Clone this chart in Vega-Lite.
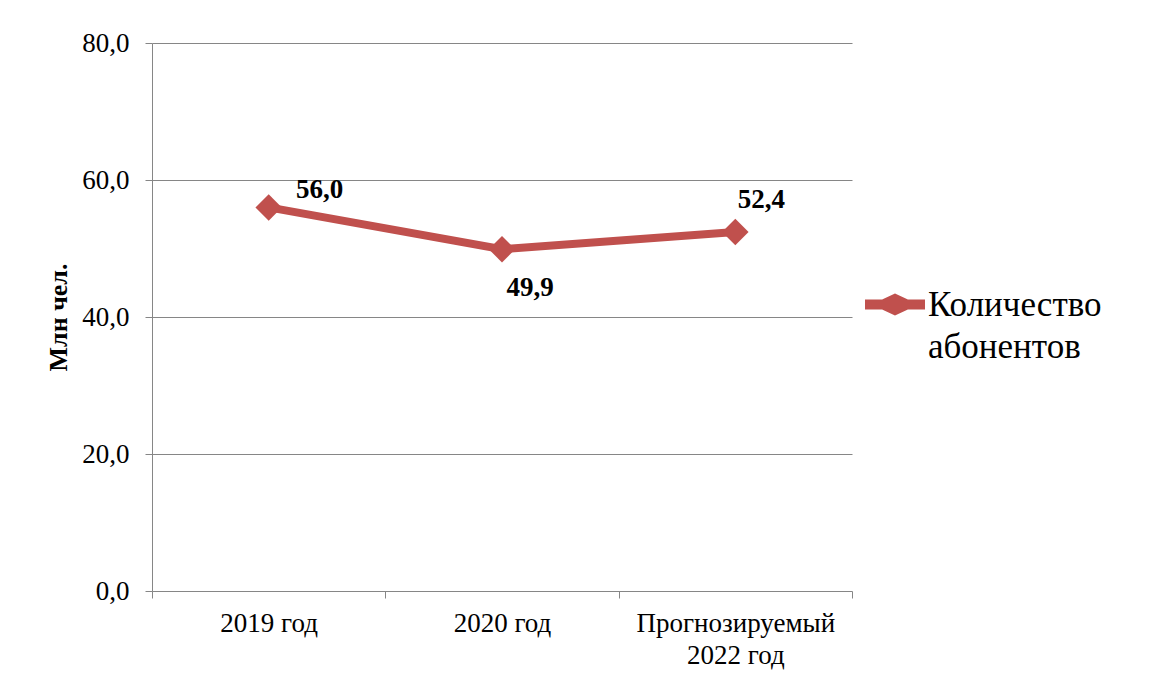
{
  "$schema": "https://vega.github.io/schema/vega-lite/v6.json",
  "width": 700,
  "height": 548,
  "autosize": "none",
  "padding": {"left": 152, "top": 43, "right": 299, "bottom": 87},
  "background": "white",
  "config": {
    "locale": {"number": {"decimal": ",", "thousands": " ", "grouping": [3], "currency": ["", ""]}},
    "view": {"stroke": null},
    "font": "Liberation Serif, Times New Roman, serif",
    "style": {"guide-label": {"lineHeight": 42}}
  },
  "data": {
    "values": [
      {"period": "2019 год", "series": "Количество абонентов", "value": 56.0},
      {"period": "2020 год", "series": "Количество абонентов", "value": 49.9},
      {"period": "Прогнозируемый\n2022 год", "series": "Количество абонентов", "value": 52.4}
    ]
  },
  "encoding": {
    "x": {
      "field": "period",
      "type": "nominal",
      "sort": null,
      "bandPosition": 0.5,
      "scale": {"type": "band", "paddingInner": 0, "paddingOuter": 0},
      "axis": {
        "title": null,
        "tickBand": "extent",
        "grid": false,
        "domain": false,
        "ticks": true,
        "tickSize": 7,
        "tickColor": "#868686",
        "labelAngle": 0,
        "labelFont": "Liberation Serif, Times New Roman, serif",
        "labelFontSize": 27,
        "labelColor": "#000000",
        "labelPadding": 12,
        "labelLimit": 400,
        "labelLineHeight": 32,
        "labelExpr": "split(datum.label, '\\n')"
      }
    },
    "y": {
      "field": "value",
      "type": "quantitative",
      "scale": {"domain": [0, 80], "nice": false},
      "axis": {
        "values": [0, 20, 40, 60, 80],
        "format": ".1f",
        "title": "Млн чел.",
        "titleFont": "Liberation Serif, Times New Roman, serif",
        "titleFontSize": 26,
        "titleFontWeight": "bold",
        "titleColor": "#000000",
        "titlePadding": 10,
        "grid": true,
        "gridColor": "#868686",
        "gridWidth": 1,
        "domainColor": "#868686",
        "tickColor": "#868686",
        "tickSize": 7,
        "labelFont": "Liberation Serif, Times New Roman, serif",
        "labelFontSize": 27,
        "labelColor": "#000000",
        "labelPadding": 16
      }
    }
  },
  "layer": [
    {
      "mark": {"type": "line", "color": "#C0504D", "strokeWidth": 8}
    },
    {
      "mark": {"type": "point", "shape": "diamond", "size": 700, "filled": true, "opacity": 1, "strokeWidth": 0},
      "encoding": {
        "color": {
          "field": "series",
          "type": "nominal",
          "scale": {"range": ["#C0504D"]},
          "legend": {
            "title": null,
            "orient": "none",
            "legendX": 713,
            "legendY": 215,
            "padding": 0,
            "symbolType": "M-1,0.38 L-0.43,0.38 L0,0.18 L0.43,0.38 L1,0.38 L1,0.72 L0.43,0.72 L0,0.92 L-0.43,0.72 L-1,0.72 Z",
            "symbolSize": 3600,
            "symbolStrokeWidth": 0,
            "symbolOpacity": 1,
            "labelFont": "Liberation Serif, Times New Roman, serif",
            "labelFontSize": 35,
            "labelColor": "#000000",
            "labelOffset": 3,
            "labelLimit": 400,
            "labelBaseline": "top",
            "labelExpr": "split(datum.label, ' ')"
          }
        }
      }
    },
    {
      "transform": [{"filter": "datum.period == '2019 год'"}],
      "mark": {"type": "text", "fontWeight": "bold", "fontSize": 27, "font": "Liberation Serif, Times New Roman, serif", "color": "#000000", "dx": 51, "dy": -17},
      "encoding": {"text": {"field": "value", "type": "quantitative", "format": ".1f"}}
    },
    {
      "transform": [{"filter": "datum.period == '2020 год'"}],
      "mark": {"type": "text", "fontWeight": "bold", "fontSize": 27, "font": "Liberation Serif, Times New Roman, serif", "color": "#000000", "dx": 28, "dy": 39},
      "encoding": {"text": {"field": "value", "type": "quantitative", "format": ".1f"}}
    },
    {
      "transform": [{"filter": "indexof(datum.period, '2022') >= 0"}],
      "mark": {"type": "text", "fontWeight": "bold", "fontSize": 27, "font": "Liberation Serif, Times New Roman, serif", "color": "#000000", "dx": 26, "dy": -32},
      "encoding": {"text": {"field": "value", "type": "quantitative", "format": ".1f"}}
    }
  ]
}
